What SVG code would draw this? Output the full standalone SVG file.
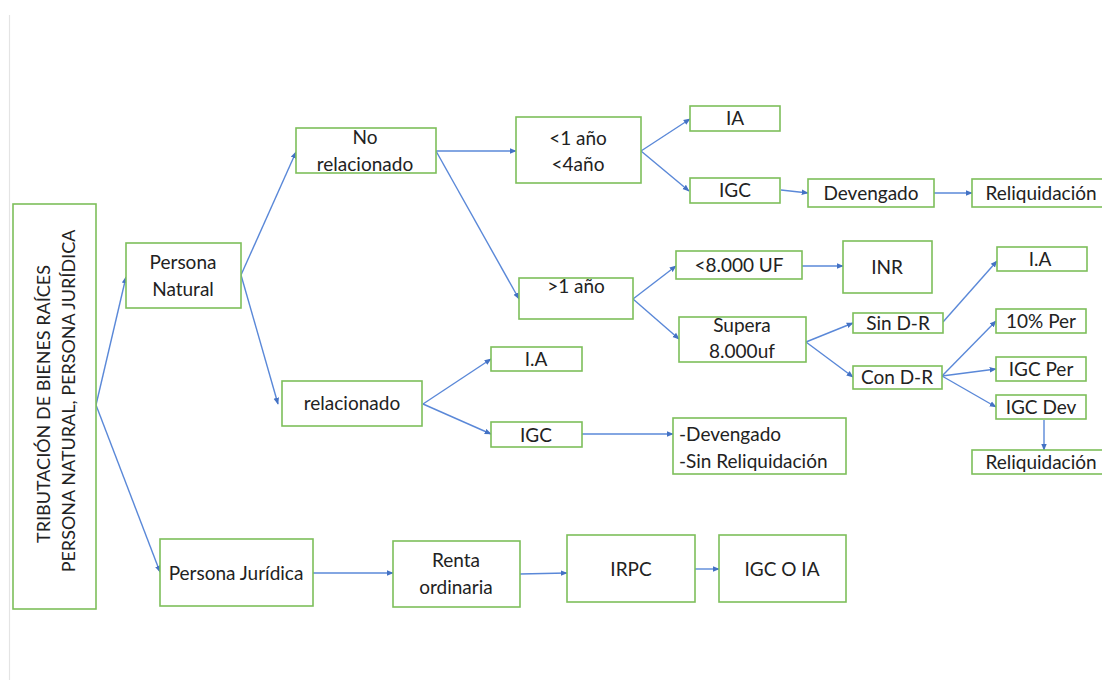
<svg xmlns="http://www.w3.org/2000/svg" width="1102" height="680" viewBox="0 0 1102 680">
<defs>
<style>
.b{fill:#fff;stroke:#7DBF5A;stroke-width:1.6}
.t{font-family:Lato,"Open Sans","Liberation Sans",sans-serif;font-size:19px;fill:#222;text-anchor:middle}
.s{text-anchor:start}
.m{font-size:18px}
.c line{stroke:#5A88D8;stroke-width:1.4;fill:none;marker-end:url(#a)}
</style>
<marker id="a" viewBox="0 0 10 10" refX="9" refY="5" markerWidth="7" markerHeight="7" orient="auto" markerUnits="userSpaceOnUse">
<path d="M0,1 L10,5 L0,9 z" fill="#4472C4"/>
</marker>
</defs>
<rect width="1102" height="680" fill="#fff"/>
<line x1="9.5" y1="15" x2="9.5" y2="680" stroke="#e4e4e4" stroke-width="1.2"/>

<g class="c">
<line x1="96" y1="405" x2="126" y2="277"/>
<line x1="96" y1="405" x2="160" y2="572"/>
<line x1="241" y1="275" x2="296" y2="152"/>
<line x1="241" y1="275" x2="278" y2="404"/>
<line x1="436" y1="151" x2="516" y2="151"/>
<line x1="436" y1="151" x2="519" y2="299"/>
<line x1="641" y1="151" x2="690" y2="119"/>
<line x1="641" y1="151" x2="689" y2="191"/>
<line x1="781" y1="190" x2="808" y2="193"/>
<line x1="934" y1="193" x2="972" y2="193"/>
<line x1="633" y1="299" x2="676" y2="266"/>
<line x1="633" y1="299" x2="679" y2="339"/>
<line x1="802" y1="266" x2="843" y2="266"/>
<line x1="806" y1="342" x2="853" y2="323"/>
<line x1="806" y1="342" x2="853" y2="377"/>
<line x1="943" y1="322" x2="997" y2="261"/>
<line x1="942" y1="376" x2="996" y2="321"/>
<line x1="942" y1="376" x2="996" y2="369"/>
<line x1="942" y1="376" x2="996" y2="407"/>
<line x1="1044" y1="420" x2="1044" y2="450"/>
<line x1="423" y1="404" x2="491" y2="359"/>
<line x1="423" y1="404" x2="491" y2="434"/>
<line x1="582" y1="434" x2="673" y2="434"/>
<line x1="313" y1="573" x2="393" y2="573"/>
<line x1="520" y1="574" x2="567" y2="573"/>
<line x1="695" y1="569" x2="719" y2="569"/>
</g>

<g id="main">
<rect class="b" x="13" y="204" width="83" height="405"/>
<g transform="translate(55,404) rotate(-90)">
<text class="t m" x="0" y="-5">TRIBUTACIÓN DE BIENES RAÍCES</text>
<text class="t m" x="3" y="20">PERSONA NATURAL, PERSONA JURÍDICA</text>
</g>
</g>
<g id="personaNatural"><rect class="b" x="126" y="243" width="115" height="65"/><text class="t" x="183" y="269">Persona</text><text class="t" x="183" y="296">Natural</text></g>
<g id="noRelacionado"><rect class="b" x="296" y="128" width="140" height="45"/><text class="t" x="365" y="144">No</text><text class="t" x="365" y="171">relacionado</text></g>
<g id="menos1"><rect class="b" x="516" y="117" width="125" height="66"/><text class="t" x="578" y="145">&lt;1 año</text><text class="t" x="578" y="171">&lt;4año</text></g>
<g id="ia1"><rect class="b" x="690" y="106" width="90" height="25"/><text class="t" x="735" y="125">IA</text></g>
<g id="igc1"><rect class="b" x="690" y="178" width="90" height="25"/><text class="t" x="735" y="197">IGC</text></g>
<g id="devengado"><rect class="b" x="808" y="179" width="126" height="28"/><text class="t" x="871" y="200">Devengado</text></g>
<g id="reliq1"><rect class="b" x="972" y="179" width="140" height="28"/><text class="t" x="1041" y="200">Reliquidación</text></g>
<g id="mas1"><rect class="b" x="519" y="278" width="114" height="41"/><text class="t" x="576" y="293">&gt;1 año</text></g>
<g id="menos8000"><rect class="b" x="676" y="251" width="126" height="28"/><text class="t" x="739" y="272">&lt;8.000 UF</text></g>
<g id="inr"><rect class="b" x="843" y="241" width="89" height="52"/><text class="t" x="887" y="274">INR</text></g>
<g id="supera"><rect class="b" x="679" y="317" width="127" height="45"/><text class="t" x="742" y="332">Supera</text><text class="t" x="742" y="358">8.000uf</text></g>
<g id="sinDR"><rect class="b" x="853" y="313" width="90" height="20"/><text class="t" x="898" y="330">Sin D-R</text></g>
<g id="conDR"><rect class="b" x="853" y="366" width="89" height="23"/><text class="t" x="897" y="384">Con D-R</text></g>
<g id="ia2"><rect class="b" x="997" y="247" width="90" height="24"/><text class="t" x="1040" y="266">I.A</text></g>
<g id="per10"><rect class="b" x="996" y="309" width="90" height="24"/><text class="t" x="1041" y="328">10% Per</text></g>
<g id="igcPer"><rect class="b" x="996" y="357" width="90" height="24"/><text class="t" x="1041" y="376">IGC Per</text></g>
<g id="igcDev"><rect class="b" x="996" y="395" width="90" height="24"/><text class="t" x="1041" y="414">IGC Dev</text></g>
<g id="reliq2"><rect class="b" x="972" y="450" width="140" height="24"/><text class="t" x="1041" y="469">Reliquidación</text></g>
<g id="relacionado"><rect class="b" x="282" y="381" width="140" height="45"/><text class="t" x="352" y="410">relacionado</text></g>
<g id="ia3"><rect class="b" x="491" y="347" width="91" height="24"/><text class="t" x="536" y="366">I.A</text></g>
<g id="igc3"><rect class="b" x="491" y="422" width="91" height="25"/><text class="t" x="536" y="442">IGC</text></g>
<g id="devSin"><rect class="b" x="673" y="418" width="173" height="56"/><text class="t s" x="679" y="441">-Devengado</text><text class="t s" x="679" y="468">-Sin Reliquidación</text></g>
<g id="personaJuridica"><rect class="b" x="160" y="539" width="153" height="67"/><text class="t" x="236" y="580">Persona Jurídica</text></g>
<g id="renta"><rect class="b" x="393" y="541" width="127" height="66"/><text class="t" x="456" y="567">Renta</text><text class="t" x="456" y="594">ordinaria</text></g>
<g id="irpc"><rect class="b" x="567" y="535" width="128" height="67"/><text class="t" x="631" y="576">IRPC</text></g>
<g id="igcoia"><rect class="b" x="719" y="535" width="127" height="67"/><text class="t" x="782" y="576">IGC O IA</text></g>
</svg>
